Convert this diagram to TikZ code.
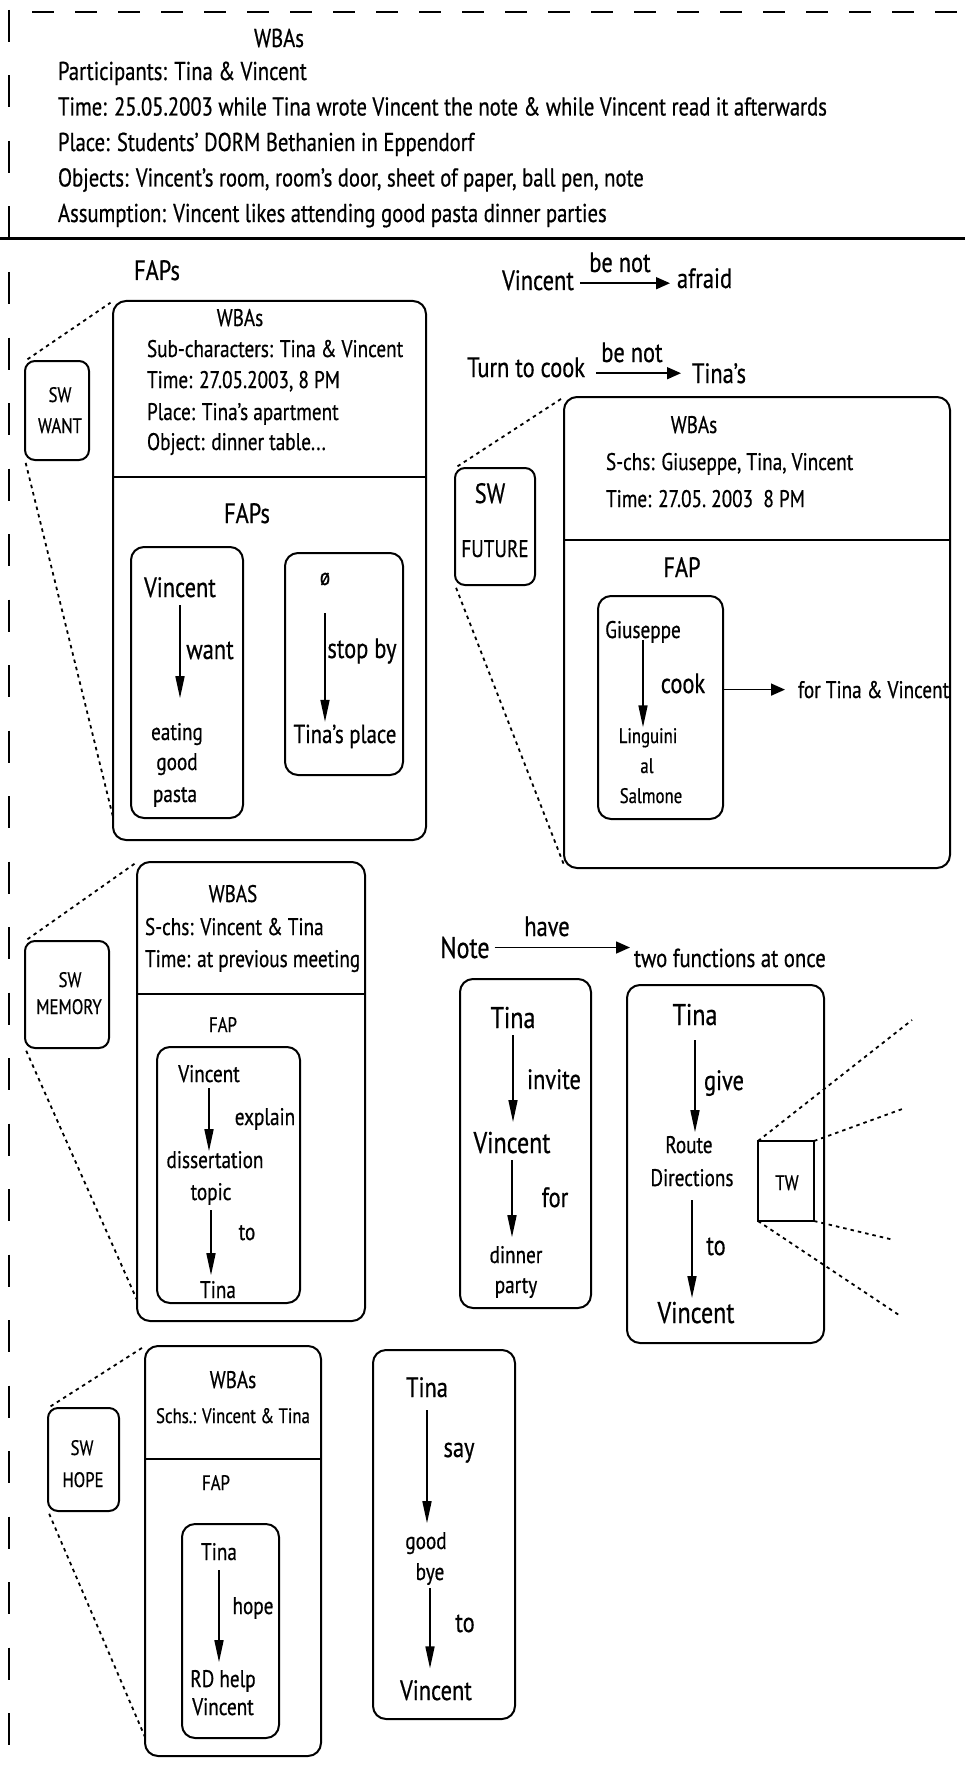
\documentclass[tikz,border=0pt]{standalone}
\usepackage{fontspec}
\setmainfont{PT Sans}[FakeStretch=0.8, FakeBold=0.6]
\usetikzlibrary{arrows.meta}
\begin{document}
\begin{tikzpicture}[x=1pt,y=-1pt,
  every node/.style={inner sep=0pt, outer sep=0pt, text depth=0pt},
  ts/.style={font=\fontsize{21}{25}\selectfont, text height=14.7pt},
  tm/.style={font=\fontsize{24}{28}\selectfont, text height=16.8pt},
  ttop/.style={font=\fontsize{25.8}{30}\selectfont, text height=18pt},
  tml/.style={font=\fontsize{26}{30}\selectfont, text height=18.2pt},
  tl/.style={font=\fontsize{28}{32}\selectfont, text height=19.6pt},
  txl/.style={font=\fontsize{30}{34}\selectfont, text height=21pt},
  rbox/.style={draw, line width=2pt, rounded corners=13pt},
  swbox/.style={draw, line width=2pt, rounded corners=10pt},
  sqbox/.style={draw, line width=2pt},
  divider/.style={line width=2pt},
  dots/.style={line width=1.8pt, dash pattern=on 3.5pt off 4pt},
  varr/.style={line width=1.6pt, -{Triangle[length=22pt,width=9pt]}},
  harr/.style={line width=1.6pt, -{Triangle[length=14pt,width=12pt]}},
]
\useasboundingbox (0,0) rectangle (965,1776);

% frame
\draw[line width=2.5pt, dash pattern=on 22pt off 21pt] (32,12) -- (965,12);
\draw[line width=1.7pt, dash pattern=on 32pt off 33.5pt] (9,10) -- (9,1776);
\draw[line width=3pt] (0,239) -- (965,239);

% top WBAs
\node[ttop, anchor=base] (wbas0) at (279,47) {WBAs};
\node[ttop, anchor=base west] (part0) at (58,80) {Participants: Tina \& Vincent};
\node[ttop, anchor=base west] (time0) at (58,115.5) {Time: 25.05.2003 while Tina wrote Vincent the note \& while Vincent read it afterwards};
\node[ttop, anchor=base west] (place0) at (58,151) {Place: Students' DORM Bethanien in Eppendorf};
\node[ttop, anchor=base west] (obj0) at (58,186.5) {Objects: Vincent's room, room's door, sheet of paper, ball pen, note};
\node[ttop, anchor=base west] (ass0) at (58,222) {Assumption: Vincent likes attending good pasta dinner parties};

\node[tl, anchor=base] (faps0) at (157,280) {FAPs};

% ---------- SW WANT ----------
\node[rbox, minimum width=313pt, minimum height=539pt] (want) at (269.5,570.5) {};
\node[tm, anchor=base] (wwbas) at (240,326) {WBAs};
\node[tm, anchor=base west] (wsub) at (147,357) {Sub-characters: Tina \& Vincent};
\node[tm, anchor=base west] (wtime) at (147,388) {Time: 27.05.2003, 8 PM};
\node[tm, anchor=base west] (wplace) at (147,420) {Place: Tina's apartment};
\node[tm, anchor=base west] (wobj) at (147,450) {Object: dinner table...};
\draw[divider] (want.west |- 0,477) -- (want.east |- 0,477);
\node[tl, anchor=base] (wfaps) at (247,523) {FAPs};

\node[rbox, minimum width=112pt, minimum height=271pt] (wvbox) at (187,682.5) {};
\node[tl, anchor=base] (wv) at (180,597) {Vincent};
\node[tl, anchor=base] (wwant) at (210,659) {want};
\node[tm, anchor=base] (weat) at (177,740) {eating};
\node[tm, anchor=base] (wgood) at (177,770) {good};
\node[tm, anchor=base] (wpasta) at (175,802) {pasta};
\draw[varr, shorten <=8pt, shorten >=25pt] (wv.south) -- (wv.south |- weat.north);

\node[rbox, minimum width=118pt, minimum height=222pt] (wpbox) at (344,664) {};
\node[tm, anchor=base] (wphi) at (325,585) {ø};
\node[tl, anchor=base] (wstop) at (362,658) {stop by};
\node[tml, anchor=base] (wtp) at (345,743) {Tina's place};
\draw[varr, shorten <=28pt, shorten >=3pt] (wphi.south) -- (wphi.south |- wtp.north);

\node[swbox, minimum width=64pt, minimum height=99pt] (swwant) at (57,410.5) {};
\node[ts, anchor=base] (swwant1) at (60,402) {SW};
\node[ts, anchor=base] (swwant2) at (60,433) {WANT};
\draw[dots, shorten <=3pt, shorten >=3pt] (swwant.north west) -- (want.north west);
\draw[dots, shorten <=3pt] (swwant.south west) -- ([yshift=23pt]want.south west);

% ---------- top right sentences ----------
\node[tl, anchor=base] (vtop) at (538,290) {Vincent};
\node[tl, anchor=base] (benot1) at (620,272) {be not};
\node[tl, anchor=base west] (afraid) at (677,288) {afraid};
\draw[harr, shorten <=6pt, shorten >=7pt] ([yshift=-3pt]vtop.east) -- ([yshift=-3pt]vtop.east -| afraid.west);

\node[tl, anchor=base east] (turn) at (585,377) {Turn to cook};
\node[tl, anchor=base] (benot2) at (632,362) {be not};
\node[tl, anchor=base west] (tinas) at (692,383) {Tina's};
\draw[harr, shorten <=11pt, shorten >=11pt] ([yshift=-6pt]turn.east) -- ([yshift=-6pt]turn.east -| tinas.west);

% ---------- SW FUTURE ----------
\node[rbox, minimum width=386pt, minimum height=471pt] (fut) at (757,632.5) {};
\node[tm, anchor=base] (fwbas) at (694,433) {WBAs};
\node[tm, anchor=base west] (fsch) at (606,470) {S-chs: Giuseppe, Tina, Vincent};
\node[tm, anchor=base west] (ftime) at (606,507) {Time: 27.05.\ 2003\ \ 8 PM};
\draw[divider] (fut.west |- 0,540) -- (fut.east |- 0,540);
\node[tl, anchor=base] (ffap) at (682,577) {FAP};

\node[rbox, minimum width=125pt, minimum height=223pt] (gbox) at (660.5,707.5) {};
\node[tm, anchor=base] (gg) at (643,638) {Giuseppe};
\node[tl, anchor=base] (gcook) at (683,693) {cook};
\node[ts, anchor=base] (gling) at (648,743) {Linguini};
\node[ts, anchor=base] (gal) at (647,773) {al};
\node[ts, anchor=base] (gsal) at (651,803) {Salmone};
\draw[varr, shorten <=2pt, shorten >=1pt] (gg.south) -- (gg.south |- gling.north);
\node[tm, anchor=base west] (fortv) at (798,698) {for Tina \& Vincent};
\draw[harr, shorten >=13pt] (gbox.east |- fortv.west) -- (fortv.west);

\node[swbox, minimum width=80pt, minimum height=117pt] (swfut) at (495,526.5) {};
\node[tl, anchor=base] (swfut1) at (490,503) {SW};
\node[tm, anchor=base] (swfut2) at (495,557) {FUTURE};
\draw[dots, shorten <=3pt, shorten >=3pt] (swfut.north west) -- (fut.north west);
\draw[dots, shorten <=3pt] (swfut.south west) -- ([yshift=3pt]fut.south west);

% ---------- SW MEMORY ----------
\node[rbox, minimum width=228pt, minimum height=459pt] (mem) at (251,1091.5) {};
\node[tm, anchor=base] (mwbas) at (233,902) {WBAS};
\node[tm, anchor=base west] (msch) at (145,935) {S-chs: Vincent \& Tina};
\node[tm, anchor=base west] (mtime) at (145,967) {Time: at previous meeting};
\draw[divider] (mem.west |- 0,994) -- (mem.east |- 0,994);
\node[ts, anchor=base] (mfap) at (223,1032) {FAP};

\node[rbox, minimum width=143pt, minimum height=256pt] (mbox) at (228.5,1175) {};
\node[tm, anchor=base] (mv) at (209,1082) {Vincent};
\node[tm, anchor=base] (mexp) at (265,1125) {explain};
\node[tm, anchor=base] (mdiss) at (215,1168) {dissertation};
\node[tm, anchor=base] (mtopic) at (211,1200) {topic};
\node[tm, anchor=base] (mto) at (247,1240) {to};
\node[tm, anchor=base] (mtina) at (218,1298) {Tina};
\draw[varr, shorten <=6pt] (mv.south) -- (mv.south |- mdiss.north);
\draw[varr, shorten <=10pt, shorten >=6pt] (mtopic.south) -- (mtopic.south |- mtina.north);

\node[swbox, minimum width=84pt, minimum height=107pt] (swmem) at (67,994.5) {};
\node[ts, anchor=base] (swmem1) at (70,987) {SW};
\node[ts, anchor=base] (swmem2) at (69,1014) {MEMORY};
\draw[dots, shorten <=3pt, shorten >=3pt] (swmem.north west) -- (mem.north west);
\draw[dots, shorten <=3pt] (swmem.south west) -- ([yshift=21pt]mem.south west);

% ---------- Note ----------
\node[txl, anchor=base] (note) at (465,958) {Note};
\node[tl, anchor=base] (have) at (547,936) {have};
\node[tml, anchor=base west] (twof) at (634,967) {two functions at once};
\draw[harr, shorten <=5pt, shorten >=4pt] (note.east) -- (note.east -| twof.west);

\node[rbox, minimum width=131pt, minimum height=329pt] (n1) at (525.5,1143.5) {};
\node[txl, anchor=base] (n1t) at (513,1028) {Tina};
\node[tl, anchor=base] (n1inv) at (554,1089) {invite};
\node[txl, anchor=base] (n1v) at (512,1153) {Vincent};
\node[tl, anchor=base] (n1for) at (555,1207) {for};
\node[tm, anchor=base] (n1din) at (516,1263) {dinner};
\node[tm, anchor=base] (n1par) at (516,1293) {party};
\draw[varr, shorten <=7pt, shorten >=10pt] (n1t.south) -- (n1t.south |- n1v.north);
\draw[varr, shorten <=7pt, shorten >=9pt] (n1v.south) -- (n1v.south |- n1din.north);

\node[rbox, minimum width=197pt, minimum height=358pt] (n2) at (725.5,1164) {};
\node[txl, anchor=base] (n2t) at (695,1025) {Tina};
\node[tl, anchor=base] (n2give) at (724,1090) {give};
\node[tm, anchor=base] (n2r) at (689,1153) {Route};
\node[tm, anchor=base] (n2d) at (692,1186) {Directions};
\node[tl, anchor=base] (n2to) at (716,1255) {to};
\node[txl, anchor=base] (n2v) at (696,1323) {Vincent};
\draw[varr, shorten <=15pt, shorten >=4pt] (n2t.south) -- (n2t.south |- n2r.north);
\draw[varr, shorten <=14pt, shorten >=4pt] (n2d.south) -- (n2d.south |- n2v.north);

\node[sqbox, minimum width=56pt, minimum height=80pt] (tw) at (786,1181) {};
\node[ts, anchor=base] (twt) at (787,1190) {TW};
\coordinate (tw1) at (912,1020);
\coordinate (tw2) at (905,1108);
\coordinate (tw3) at (894,1240);
\coordinate (tw4) at (899,1315);
\draw[dots] (tw.north west) -- (tw1);
\draw[dots] (tw.north east) -- (tw2);
\draw[dots] (tw.south east) -- (tw3);
\draw[dots] (tw.south west) -- (tw4);

% ---------- SW HOPE ----------
\node[rbox, minimum width=176pt, minimum height=410pt] (hope) at (233,1551) {};
\node[tm, anchor=base] (hwbas) at (233,1388) {WBAs};
\node[ts, anchor=base] (hsch) at (233,1423) {Schs.: Vincent \& Tina};
\draw[divider] (hope.west |- 0,1459) -- (hope.east |- 0,1459);
\node[ts, anchor=base] (hfap) at (216,1490) {FAP};

\node[rbox, minimum width=97pt, minimum height=214pt] (hbox) at (230.5,1631) {};
\node[tm, anchor=base] (ht) at (219,1560) {Tina};
\node[tm, anchor=base] (hhope) at (253,1614) {hope};
\node[tm, anchor=base] (hrd) at (223,1687) {RD help};
\node[tm, anchor=base] (hv) at (223,1715) {Vincent};
\draw[varr, shorten <=10pt, shorten >=8pt] (ht.south) -- (ht.south |- hrd.north);

\node[swbox, minimum width=71pt, minimum height=103pt] (swhope) at (83.5,1459.5) {};
\node[ts, anchor=base] (swhope1) at (82,1455) {SW};
\node[ts, anchor=base] (swhope2) at (83,1487) {HOPE};
\draw[dots, shorten <=3pt, shorten >=3pt] (swhope.north west) -- (hope.north west);
\draw[dots, shorten <=3pt] (swhope.south west) -- ([yshift=19pt]hope.south west);

% ---------- Tina say good bye ----------
\node[rbox, minimum width=142pt, minimum height=369pt] (sbox) at (444,1534.5) {};
\node[tl, anchor=base] (st) at (427,1397) {Tina};
\node[tl, anchor=base] (ssay) at (459,1457) {say};
\node[tm, anchor=base] (sgood) at (426,1549) {good};
\node[tm, anchor=base] (sbye) at (430,1580) {bye};
\node[tl, anchor=base] (sto) at (465,1632) {to};
\node[tl, anchor=base] (sv) at (436,1700) {Vincent};
\draw[varr, shorten <=13pt, shorten >=9pt] (st.south) -- (st.south |- sgood.north);
\draw[varr, shorten <=8pt, shorten >=12pt] (sbye.south) -- (sbye.south |- sv.north);

\end{tikzpicture}
\end{document}
